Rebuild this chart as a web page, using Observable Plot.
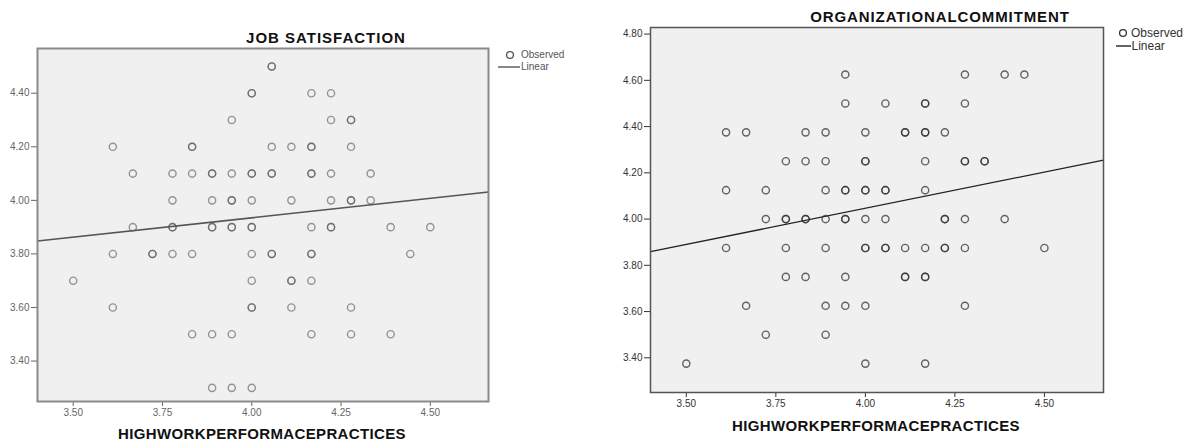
<!DOCTYPE html>
<html>
<head>
<meta charset="utf-8">
<script src="https://cdn.jsdelivr.net/npm/d3@7"></script>
<script src="https://cdn.jsdelivr.net/npm/@observablehq/plot@0.6"></script>
<style>
  body { margin: 0; background: #fff; }
  #wrap { position: relative; width: 1194px; height: 442px; overflow: hidden; font-family: "Liberation Sans", Arial, sans-serif; }
  #wrap > svg { position: absolute; top: 0; }
  .lbl { position: absolute; transform: translate(-50%, -50%); line-height: 1; white-space: nowrap; }
  .leg { position: absolute; transform: translateY(-50%); line-height: 1; white-space: nowrap; }
</style>
</head>
<body>
<div id="wrap"></div>
<script>
// ---------- shared ----------
const xLabel = "HIGHWORKPERFORMACEPRACTICES";
const xTicks = [3.50, 3.75, 4.00, 4.25, 4.50];
const legendLabels = ["Observed", "Linear"];

// ---------- JOB SATISFACTION (left) ----------
const jsTitle = "JOB SATISFACTION";
const jsYTicks = [3.40, 3.60, 3.80, 4.00, 4.20, 4.40];
// overlapping respondents are listed twice (drawn darker)
const jsX = [
  4.056, 4.056,                                                   // 4.5
  4.000, 4.000, 4.167, 4.222,                                     // 4.4
  3.944, 4.222, 4.278, 4.278,                                     // 4.3
  3.611, 3.833, 3.833, 4.056, 4.111, 4.167, 4.167, 4.278,         // 4.2
  3.667, 3.778, 3.833, 3.889, 3.889, 3.944, 4.000, 4.000, 4.056, 4.056, 4.167, 4.167, 4.222, 4.333, // 4.1
  3.778, 3.889, 3.944, 3.944, 4.000, 4.111, 4.222, 4.278, 4.278, 4.333, // 4.0
  3.667, 3.778, 3.778, 3.889, 3.889, 3.944, 3.944, 4.000, 4.000, 4.167, 4.222, 4.222, 4.389, 4.500, // 3.9
  3.611, 3.722, 3.722, 3.778, 3.833, 4.000, 4.056, 4.056, 4.167, 4.167, 4.444, // 3.8
  3.500, 4.000, 4.111, 4.111, 4.167,                              // 3.7
  3.611, 4.000, 4.000, 4.111, 4.278,                              // 3.6
  3.833, 3.889, 3.944, 4.167, 4.278, 4.389,                       // 3.5
  3.889, 3.944, 4.000                                             // 3.3
];
const jsY = [
  4.5, 4.5,
  4.4, 4.4, 4.4, 4.4,
  4.3, 4.3, 4.3, 4.3,
  4.2, 4.2, 4.2, 4.2, 4.2, 4.2, 4.2, 4.2,
  4.1, 4.1, 4.1, 4.1, 4.1, 4.1, 4.1, 4.1, 4.1, 4.1, 4.1, 4.1, 4.1, 4.1,
  4.0, 4.0, 4.0, 4.0, 4.0, 4.0, 4.0, 4.0, 4.0, 4.0,
  3.9, 3.9, 3.9, 3.9, 3.9, 3.9, 3.9, 3.9, 3.9, 3.9, 3.9, 3.9, 3.9, 3.9,
  3.8, 3.8, 3.8, 3.8, 3.8, 3.8, 3.8, 3.8, 3.8, 3.8, 3.8,
  3.7, 3.7, 3.7, 3.7, 3.7,
  3.6, 3.6, 3.6, 3.6, 3.6,
  3.5, 3.5, 3.5, 3.5, 3.5, 3.5,
  3.3, 3.3, 3.3
];
const jsFitX = [3.40, 4.663];
const jsFitY = [3.848, 4.031];

// ---------- ORGANIZATIONAL COMMITMENT (right) ----------
const ocTitle = "ORGANIZATIONALCOMMITMENT";
const ocYTicks = [3.40, 3.60, 3.80, 4.00, 4.20, 4.40, 4.60, 4.80];
const ocX = [
  3.944, 4.278, 4.389, 4.444,                                     // 4.625
  3.944, 4.056, 4.167, 4.167, 4.278,                              // 4.5
  3.611, 3.667, 3.833, 3.889, 4.000, 4.111, 4.111, 4.167, 4.167, 4.222, // 4.375
  3.778, 3.833, 3.889, 4.000, 4.000, 4.167, 4.278, 4.278, 4.333, 4.333, // 4.25
  3.611, 3.722, 3.889, 3.944, 3.944, 4.000, 4.000, 4.056, 4.056, 4.167, // 4.125
  3.722, 3.778, 3.778, 3.833, 3.833, 3.889, 3.944, 3.944, 4.000, 4.056, 4.222, 4.222, 4.278, 4.389, // 4.0
  3.611, 3.778, 3.889, 4.000, 4.000, 4.056, 4.056, 4.111, 4.167, 4.222, 4.222, 4.278, 4.500, // 3.875
  3.778, 3.833, 3.944, 4.111, 4.111, 4.167, 4.167,                // 3.75
  3.667, 3.889, 3.944, 4.000, 4.278,                              // 3.625
  3.722, 3.889,                                                   // 3.5
  3.500, 4.000, 4.167                                             // 3.375
];
const ocY = [
  4.625, 4.625, 4.625, 4.625,
  4.5, 4.5, 4.5, 4.5, 4.5,
  4.375, 4.375, 4.375, 4.375, 4.375, 4.375, 4.375, 4.375, 4.375, 4.375,
  4.25, 4.25, 4.25, 4.25, 4.25, 4.25, 4.25, 4.25, 4.25, 4.25,
  4.125, 4.125, 4.125, 4.125, 4.125, 4.125, 4.125, 4.125, 4.125, 4.125,
  4.0, 4.0, 4.0, 4.0, 4.0, 4.0, 4.0, 4.0, 4.0, 4.0, 4.0, 4.0, 4.0, 4.0,
  3.875, 3.875, 3.875, 3.875, 3.875, 3.875, 3.875, 3.875, 3.875, 3.875, 3.875, 3.875, 3.875,
  3.75, 3.75, 3.75, 3.75, 3.75, 3.75, 3.75,
  3.625, 3.625, 3.625, 3.625, 3.625,
  3.5, 3.5,
  3.375, 3.375, 3.375
];
const ocFitX = [3.40, 4.665];
const ocFitY = [3.859, 4.255];

// ---------- build ----------
const fmt = d3.format(".2f");
const wrap = document.getElementById("wrap");

function panel(cfg) {
  const pts = cfg.xs.map((x, i) => ({x, y: cfg.ys[i]}));
  const fit = cfg.fitX.map((x, i) => ({x, y: cfg.fitY[i]}));
  const svg = Plot.plot({
    width: cfg.width, height: 442,
    marginLeft: cfg.ml, marginRight: cfg.mr, marginTop: cfg.mt, marginBottom: cfg.mb,
    x: {domain: cfg.xDomain},
    y: {domain: cfg.yDomain},
    style: {fontFamily: "'Liberation Sans', Arial, sans-serif", fontSize: "10px", color: cfg.tickColor, background: "transparent", overflow: "visible"},
    marks: [
      Plot.frame({fill: "#f0f0f0"}),
      Plot.axisX({ticks: xTicks, tickFormat: fmt, tickSize: 5, tickPadding: 2, label: null, stroke: cfg.tickColor}),
      Plot.axisY({ticks: cfg.yTicks, tickFormat: fmt, tickSize: 6, tickPadding: 2, label: null, stroke: cfg.tickColor}),
      Plot.line(fit, {x: "x", y: "y", stroke: cfg.lineColor, strokeWidth: cfg.lineWidth}),
      Plot.dot(pts, {x: "x", y: "y", r: 3.6, fill: "none", stroke: cfg.dotColor, strokeWidth: 1.4, strokeOpacity: cfg.dotOpacity}),
      Plot.frame({stroke: cfg.frameColor, strokeWidth: cfg.frameWidth})
    ]
  });
  svg.style.left = cfg.left + "px";
  wrap.appendChild(svg);

  const addText = (cls, text, x, y, css) => {
    const d = document.createElement("div");
    d.className = cls;
    d.textContent = text;
    d.style.left = x + "px";
    d.style.top = y + "px";
    Object.assign(d.style, css);
    wrap.appendChild(d);
  };
  addText("lbl", cfg.title, cfg.titleX, cfg.titleY, {fontSize: "15px", fontWeight: "bold", color: "#111", letterSpacing: cfg.titleLS});
  addText("lbl", xLabel, cfg.xlabX, cfg.xlabY, {fontSize: "15px", fontWeight: "bold", color: "#111", letterSpacing: "0.35px"});

  // legend symbols
  const ns = "http://www.w3.org/2000/svg";
  const lg = document.createElementNS(ns, "svg");
  lg.setAttribute("width", 1194); lg.setAttribute("height", 442);
  lg.style.position = "absolute"; lg.style.left = "0px"; lg.style.top = "0px";
  const c = document.createElementNS(ns, "circle");
  c.setAttribute("cx", cfg.legCX); c.setAttribute("cy", cfg.legCY); c.setAttribute("r", 3.4);
  c.setAttribute("fill", "none"); c.setAttribute("stroke", cfg.dotColor); c.setAttribute("stroke-width", 1.3);
  lg.appendChild(c);
  const l = document.createElementNS(ns, "line");
  l.setAttribute("x1", cfg.legL1); l.setAttribute("x2", cfg.legL2);
  l.setAttribute("y1", cfg.legLY); l.setAttribute("y2", cfg.legLY);
  l.setAttribute("stroke", cfg.lineColor); l.setAttribute("stroke-width", 1.4);
  lg.appendChild(l);
  wrap.appendChild(lg);
  addText("leg", legendLabels[0], cfg.legTX, cfg.legCY, {fontSize: cfg.legFS, color: cfg.legColor});
  addText("leg", legendLabels[1], cfg.legTX2, cfg.legLY, {fontSize: cfg.legFS, color: cfg.legColor});
}

panel({
  xs: jsX, ys: jsY, fitX: jsFitX, fitY: jsFitY, yTicks: jsYTicks,
  width: 600, left: 0, ml: 37, mr: 112, mt: 48, mb: 41,
  xDomain: [3.40, 4.663], yDomain: [3.249, 4.567],
  tickColor: "#666", lineColor: "#555", lineWidth: 1.6,
  dotColor: "#555", dotOpacity: 0.6, frameColor: "#8a8a8a", frameWidth: 2,
  title: jsTitle, titleX: 326, titleY: 37, titleLS: "1px",
  xlabX: 262, xlabY: 433,
  legCX: 510, legCY: 55, legL1: 498, legL2: 520, legLY: 67, legTX: 521, legTX2: 521,
  legFS: "10px", legColor: "#555"
});

panel({
  xs: ocX, ys: ocY, fitX: ocFitX, fitY: ocFitY, yTicks: ocYTicks,
  width: 594, left: 600, ml: 50, mr: 91, mt: 27, mb: 50,
  xDomain: [3.40, 4.665], yDomain: [3.25, 4.8285],
  tickColor: "#333", lineColor: "#222", lineWidth: 1.3,
  dotColor: "#333", dotOpacity: 0.75, frameColor: "#555", frameWidth: 1.5,
  title: ocTitle, titleX: 940, titleY: 16, titleLS: "0.9px",
  xlabX: 876, xlabY: 425,
  legCX: 1123, legCY: 33, legL1: 1116, legL2: 1131, legLY: 46, legTX: 1131, legTX2: 1131.5,
  legFS: "12px", legColor: "#333"
});
</script>
</body>
</html>
